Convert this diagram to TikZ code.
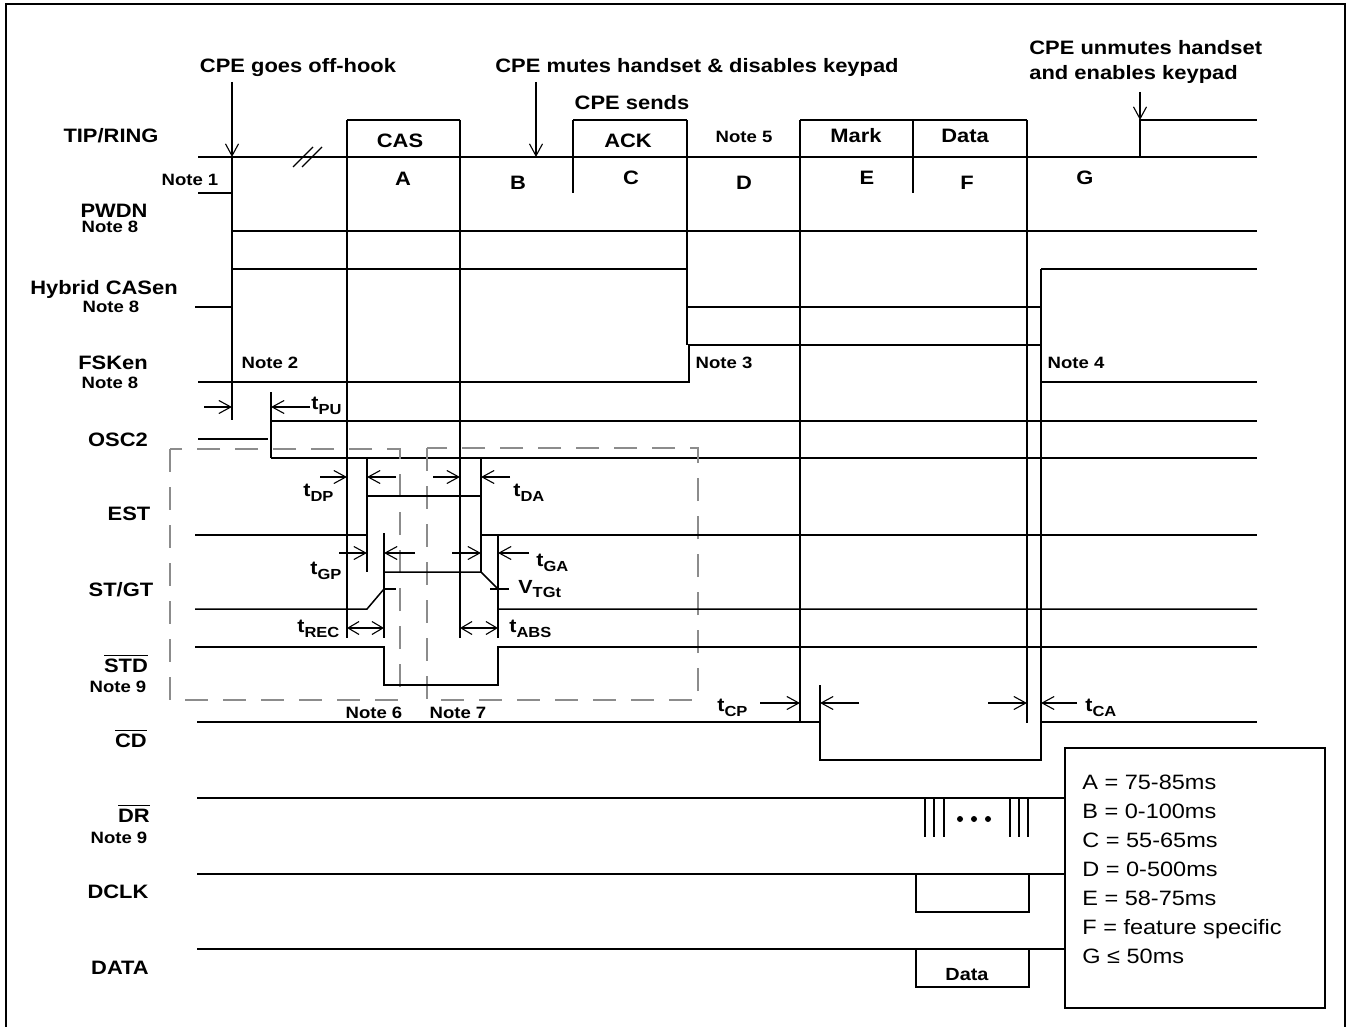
\documentclass[tikz,border=0pt]{standalone}
\usepackage{fontspec}
\setmainfont{Liberation Sans}[FakeStretch=1.13]
\usetikzlibrary{arrows.meta}
\newcommand\ovl[1]{\vbox{\hrule height 0.7pt \kern 1.2pt\hbox{#1}}}
\newcommand\tsb[2]{#1\raisebox{-2.75pt}{\fontsize{7.3}{8}\selectfont #2}}
\begin{document}
\begin{tikzpicture}[x=0.5pt,y=-0.5pt,
  sig/.style={line width=0.75pt, line join=miter},
  tline/.style={line width=0.55pt},
  arr/.style={line width=0.55pt,-{Straight Barb[length=6pt,width=6.5pt]}},
  darr/.style={line width=0.55pt,{Straight Barb[length=5.5pt,width=6.5pt]}-{Straight Barb[length=5.5pt,width=6.5pt]}},
  dashbox/.style={draw=black!45, line width=0.6pt, dash pattern=on 11.5pt off 7.5pt},
  lbl/.style={font=\fontsize{9.7}{11}\selectfont\bfseries, inner sep=0pt, anchor=base},
  note/.style={font=\fontsize{8.2}{9}\selectfont\bfseries, inner sep=0pt, anchor=base},
  tlab/.style={font=\fontsize{9.5}{11}\selectfont\bfseries, inner sep=0pt, anchor=base west},
  leg/.style={font=\fontsize{10.4}{12}\selectfont, inner sep=0pt, anchor=base west},
]
\useasboundingbox (0,0) rectangle (1354,1027);
% frame
\draw[line width=0.9pt] (6,1040) -- (6,4) -- (1345,4) -- (1345,1040);

% headings
\node[lbl] (h1) at (298,73) {CPE goes off-hook};
\node[lbl] (h2) at (697,73) {CPE mutes handset \& disables keypad};
\node[lbl] (h3) at (632,110) {CPE sends};
\node[lbl,anchor=base west] (h4) at (1029,55) {CPE unmutes handset};
\node[lbl,anchor=base west] (h5) at (1029,80) {and enables keypad};
\coordinate (a1s) at (232,82); \coordinate (a1e) at (232,157);
\coordinate (a2s) at (536,82); \coordinate (a2e) at (536,157);
\coordinate (a3s) at (1140,92); \coordinate (a3e) at (1140,120);
\draw[arr] (a1s) -- (a1e);
\draw[arr] (a2s) -- (a2e);
\draw[arr] (a3s) -- (a3e);

% signal names
\node[lbl] (nTR) at (111,143) {TIP/RING};
\node[note] (n1) at (190,186) {Note 1};
\node[lbl] (nPW) at (114,218) {PWDN};
\node[note] (nPW8) at (110,233) {Note 8};
\node[lbl] (nHC) at (104,294) {Hybrid CASen};
\node[note] (nHC8) at (111,313) {Note 8};
\node[lbl] (nFS) at (113,369) {FSKen};
\node[note] (nFS8) at (110,388) {Note 8};
\node[lbl] (nOS) at (118,446) {OSC2};
\node[lbl] (nEST) at (129,520) {EST};
\node[lbl] (nSG) at (121,596) {ST/GT};
\node[lbl] (nSTD) at (126,672) {\ovl{STD}};
\node[note] (nSTD9) at (118,692) {Note 9};
\node[lbl] (nCD) at (131,747) {\ovl{CD}};
\node[lbl] (nDR) at (134,822) {\ovl{DR}};
\node[note] (nDR9) at (119,843) {Note 9};
\node[lbl] (nDC) at (118,898) {DCLK};
\node[lbl] (nDA) at (120,974) {DATA};

% TIP/RING
\draw[sig] (198,157) -- (1257,157);
\draw[sig] (347,120) -- (460,120);
\draw[sig] (573,120) -- (687,120);
\draw[sig] (800,120) -- (1027,120);
\draw[sig] (1140,157) -- (1140,120) -- (1257,120);
\draw[tline] (293,167) -- (313,147);
\draw[tline] (302,167) -- (322,147);
\node[lbl] (tCAS) at (400,148) {CAS};
\node[lbl] (tACK) at (628,148) {ACK};
\node[note] (n5) at (744,143) {Note 5};
\node[lbl] (tMk) at (856,143) {Mark};
\node[lbl] (tDt) at (965,143) {Data};
\node[lbl] (pA) at (403,186) {A};
\node[lbl] (pB) at (518,190) {B};
\node[lbl] (pC) at (631,185) {C};
\node[lbl] (pD) at (744,190) {D};
\node[lbl] (pE) at (867,185) {E};
\node[lbl] (pF) at (967,190) {F};
\node[lbl] (pG) at (1085,185) {G};

% long verticals
\draw[sig] (232,157) -- (232,420);
\draw[sig] (347,120) -- (347,638);
\draw[sig] (460,120) -- (460,638);
\draw[sig] (573,120) -- (573,193);
\draw[sig] (687,120) -- (687,345);
\draw[sig] (800,120) -- (800,722);
\draw[sig] (913,120) -- (913,193);
\draw[sig] (1027,120) -- (1027,723);
\draw[sig] (1041,269) -- (1041,760);

% PWDN
\draw[sig] (198,193) -- (232,193);
\draw[sig] (232,231) -- (1257,231);
% Hybrid CASen
\draw[sig] (195,307) -- (232,307);
\draw[sig] (232,269) -- (687,269);
\draw[sig] (687,307) -- (1041,307);
\draw[sig] (1041,269) -- (1257,269);
% FSKen
\draw[sig] (198,382) -- (689,382) -- (689,345) -- (1041,345);
\draw[sig] (1041,382) -- (1257,382);
\node[note] (n2) at (270,368) {Note 2};
\node[note] (n3) at (724,368) {Note 3};
\node[note] (n4) at (1076,368) {Note 4};

% OSC2
\draw[sig] (198,439) -- (268,439);
\draw[sig] (271,392) -- (271,458);
\draw[sig] (271,421) -- (1257,421);
\draw[sig] (271,458) -- (1257,458);
\coordinate (pu1) at (204,407); \coordinate (pu2) at (232,407);
\coordinate (pu3) at (310,407); \coordinate (pu4) at (271,407);
\draw[arr] (pu1) -- (pu2);
\draw[arr] (pu3) -- (pu4);
\node[tlab] (tPU) at (311,409) {\tsb{t}{PU}};

% dashed boxes
\draw[dashbox] (170,449) rectangle (400,700);
\draw[dashbox] (427,448) rectangle (698,700);
\node[note] (n6) at (374,718) {Note 6};
\node[note] (n7) at (458,718) {Note 7};

% EST
\draw[sig] (195,535) -- (367,535) -- (367,496) -- (481,496) -- (481,535) -- (1257,535);
\draw[sig] (367,458) -- (367,572);
\draw[sig] (481,458) -- (481,572);
% ST/GT
\draw[sig] (195,609) -- (367,609) -- (384,589) -- (384,572) -- (481,572) -- (498,589) -- (498,609) -- (1257,609);
\draw[sig] (384,533) -- (384,638);
\draw[sig] (498,534) -- (498,638);
\draw[tline] (384,589) -- (396,589);
\draw[tline] (490,589) -- (509,589);
% STD
\draw[sig] (195,647) -- (384,647) -- (384,685) -- (498,685) -- (498,647) -- (1257,647);

% timing arrows
\draw[arr] (320,477) -- (347,477);
\draw[arr] (396,477) -- (367,477);
\draw[arr] (433,477) -- (460,477);
\draw[arr] (510,477) -- (481,477);
\draw[arr] (339,553) -- (367,553);
\draw[arr] (415,553) -- (384,553);
\draw[arr] (452,553) -- (481,553);
\draw[arr] (529,553) -- (498,553);
\draw[darr] (347,628) -- (384,628);
\draw[darr] (460,628) -- (498,628);
\node[tlab] (tDP) at (303,496) {\tsb{t}{DP}};
\node[tlab] (tDA) at (513,496) {\tsb{t}{DA}};
\node[tlab] (tGP) at (310,574) {\tsb{t}{GP}};
\node[tlab] (tGA) at (536,566) {\tsb{t}{GA}};
\node[tlab] (tVT) at (518,593) {V\raisebox{-2.2pt}{\fontsize{7.3}{8}\selectfont TGt}};
\node[tlab] (tREC) at (297,632) {\tsb{t}{REC}};
\node[tlab] (tABS) at (509,632) {\tsb{t}{ABS}};

% CD
\draw[sig] (197,722) -- (820,722) -- (820,760) -- (1041,760) -- (1041,722) -- (1257,722);
\draw[sig] (820,685) -- (820,722);
\draw[arr] (760,703) -- (800,703);
\draw[arr] (859,703) -- (820,703);
\draw[arr] (988,703) -- (1027,703);
\draw[arr] (1077,703) -- (1041,703);
\node[tlab] (tCP) at (717,711) {\tsb{t}{CP}};
\node[tlab] (tCA) at (1085,711) {\tsb{t}{CA}};

% DR
\draw[sig] (197,798) -- (1065,798);
\foreach \xx in {925,934,944,1010,1019,1028} \draw[sig] (\xx,798) -- (\xx,837);
\foreach \xx in {960,974,988} \fill (\xx,819) circle[radius=1.5pt];
% DCLK
\draw[sig] (197,874) -- (1065,874);
\draw[sig] (916,874) -- (916,912) -- (1029,912) -- (1029,874);
% DATA
\draw[sig] (197,949) -- (1065,949);
\draw[sig] (916,949) rectangle (1029,987);
\node[note, font=\fontsize{8.8}{10}\selectfont\bfseries] (tDB) at (967,980) {Data};

% legend
\draw[sig] (1065,748) rectangle (1325,1008);
\node[leg] (l1) at (1082,789) {A = 75-85ms};
\node[leg] (l2) at (1082,818) {B = 0-100ms};
\node[leg] (l3) at (1082,847) {C = 55-65ms};
\node[leg] (l4) at (1082,876) {D = 0-500ms};
\node[leg] (l5) at (1082,905) {E = 58-75ms};
\node[leg] (l6) at (1082,934) {F = feature specific};
\node[leg] (l7) at (1082,963) {G ≤ 50ms};
\end{tikzpicture}
\end{document}
